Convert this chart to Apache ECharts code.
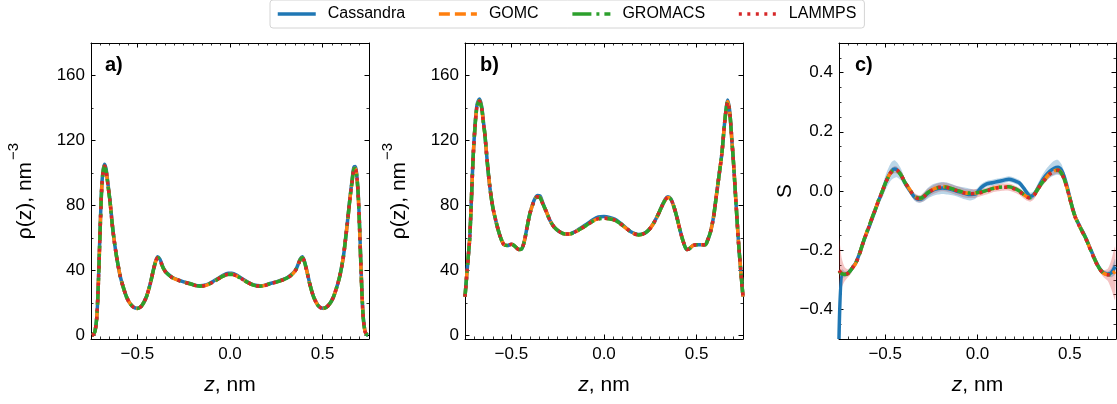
<!DOCTYPE html>
<html><head><meta charset="utf-8">
<script src="https://cdn.jsdelivr.net/npm/echarts@6.0.0/dist/echarts.min.js"></script>
<style>html,body{margin:0;padding:0;background:#fff}#c{width:1117px;height:404px}</style>
</head><body><div id="c"></div>
<script>
// ---------- categories / ticks ----------
const seriesNames = ['Cassandra', 'GOMC', 'GROMACS', 'LAMMPS'];
const seriesColors = ['#1f77b4', '#ff7f0e', '#2ca02c', '#d62728'];
const panelLabels = ['a)', 'b)', 'c)'];
const xMajorTicks = [-0.5, 0, 0.5];
const xMinorTicks = [-0.7,-0.65,-0.6,-0.55,-0.45,-0.4,-0.35,-0.3,-0.25,-0.2,-0.15,-0.1,-0.05,0.05,0.1,0.15,0.2,0.25,0.3,0.35,0.4,0.45,0.55,0.6,0.65,0.7];
const rhoMajorTicks = [0, 40, 80, 120, 160];
const rhoMinorTicks = [20, 60, 100, 140];
const sMajorTicks = [-0.4, -0.2, 0, 0.2, 0.4];
const sMinorTicks = [-0.45,-0.35,-0.3,-0.25,-0.15,-0.1,-0.05,0.05,0.1,0.15,0.25,0.3,0.35,0.45];

// ---------- panel a ----------
const aX = [-0.745,-0.737,-0.728,-0.719,-0.712,-0.705,-0.698,-0.691,-0.683,-0.676,-0.668,-0.658,-0.647,-0.635,-0.623,-0.611,-0.593,-0.575,-0.557,-0.539,-0.52,-0.50,-0.48,-0.465,-0.449,-0.43,-0.413,-0.40,-0.39,-0.378,-0.36,-0.342,-0.315,-0.288,-0.25,-0.216,-0.19,-0.162,-0.13,-0.10,-0.07,-0.04,-0.01,
  0.01,0.04,0.07,0.10,0.13,0.162,0.19,0.216,0.25,0.288,0.315,0.342,0.36,0.378,0.39,0.40,0.413,0.43,0.449,0.465,0.48,0.50,0.52,0.539,0.557,0.575,0.593,0.611,0.623,0.635,0.647,0.658,0.668,0.676,0.683,0.691,0.698,0.705,0.712,0.719,0.728,0.737,0.745];
const aCassandra = [0.3,0.8,3,11,27,51,75,94,103,105.5,102,93,82.5,68.5,57,48,37,29.5,23.5,19.8,17.5,16.9,18,20.5,24.6,32.2,40.8,46.4,48.6,47,41.8,38.7,36.2,34.6,33.1,32.1,31.1,30.7,31.2,32.8,34.9,37,38.4,
  38.4,37,34.8,32.7,31.2,30.7,31.1,32.1,33.1,34.6,36.2,38.7,41.8,47,48.6,46.4,40.8,32.2,24.6,20.5,18,16.9,17.5,19.8,23.5,29.5,37,48,59,71.5,84.5,95,103.5,104,100,89,71,48,26.5,11,3,0.8,0.3];
const aGOMC = [0.3,0.8,3,11,27,50,74,93,102,104.5,101,92,82,68,57,48,37,29.5,23.5,19.8,17.5,16.8,18,20.5,24.5,32,40.5,46,48,46.5,41.5,38.5,36,34.5,33,32,31,30.5,31,32.5,34.5,36.5,37.8,
  37.8,36.5,34.5,32.5,31,30.5,31,32,33,34.5,36,38.5,41.5,46.5,48,46,40.5,32,24.5,20.5,18,16.8,17.5,19.8,23.5,29.5,37,48,59,71,84,94,102.5,103,99,88,70,47,26,11,3,0.8,0.3];
const aGROMACS = [0.3,0.8,3,11,27,50,74,93,102,104.3,101,92,82,68,57,48,37,29.5,23.5,19.8,17.5,16.8,18,20.5,24.5,32,40.5,46,48,46.5,41.5,38.5,36,34.5,33,32,31,30.5,31,32.5,34.5,36.5,37.7,
  37.7,36.5,34.5,32.5,31,30.5,31,32,33,34.5,36,38.5,41.5,46.5,48,46,40.5,32,24.5,20.5,18,16.8,17.5,19.8,23.5,29.5,37,48,59,71,84,94,102.3,102.8,99,88,70,47,26,11,3,0.8,0.3];
const aLAMMPS = [0.3,0.8,3,11,27,50,74,93,102,104.4,101,92,82,68,57,48,37,29.5,23.5,19.8,17.5,16.8,18,20.5,24.5,32,40.5,46,48,46.5,41.5,38.5,36,34.5,33,32,31,30.5,31,32.5,34.5,36.5,37.8,
  37.8,36.5,34.5,32.5,31,30.5,31,32,33,34.5,36,38.5,41.5,46.5,48,46,40.5,32,24.5,20.5,18,16.8,17.5,19.8,23.5,29.5,37,48,59,71,84,94,102.4,102.9,99,88,70,47,26,11,3,0.8,0.3];

// ---------- panel b ----------
const bX = [-0.75,-0.74,-0.73,-0.724,-0.715,-0.706,-0.695,-0.685,-0.672,-0.66,-0.65,-0.643,-0.63,-0.616,-0.60,-0.58,-0.56,-0.54,-0.52,-0.50,-0.48,-0.46,-0.445,-0.43,-0.418,-0.40,-0.38,-0.36,-0.345,-0.33,-0.31,-0.292,-0.27,-0.24,-0.21,-0.19,-0.16,-0.13,-0.094,-0.06,-0.03,0,0.03,0.06,0.087,0.12,0.15,0.186,0.22,0.245,0.267,0.29,0.31,0.33,0.345,0.36,0.375,0.393,0.41,0.43,0.447,0.46,0.48,0.50,0.52,0.546,0.56,0.575,0.591,0.605,0.62,0.636,0.65,0.66,0.667,0.678,0.69,0.699,0.712,0.726,0.738,0.75];
const bCassandra = [24,38,52,61,85,110,130.5,142,145.5,141,131,124.5,107,91.5,79,69,61,56,55.5,56.3,55,53,53.3,58,65,75,82.5,86.3,86,81.5,76,71,67,64,62.6,62.6,63.8,66,68.6,71.3,73,73.3,72.8,71.6,69.4,66.2,63.6,62.2,63.1,65.6,69.1,74.1,79.2,83.8,85.4,84.3,80.2,73,65,57,53,53.5,55.5,56,56,56,59,64,73,85,98,112,130,140.5,145,138.5,120,106,82,57,40,24];
const bGOMC = [24,38,52,61,85,110,130,141,144.5,140,130,124,107,91.5,79,69,61,56,55.5,56.3,55,53,53.3,58,65,75,82,85.5,85,81,76,71,67,64,62.5,62.5,63.5,65.5,68,70.5,72,72.3,72,71,69,66,63.5,62,63,65.5,69,74,79,83.5,85,84,80,73,65,57,53,53.5,55.5,56,56,56,59,64,73,85,98,112,130,140,144,138,120,106,82,57,40,24];
const bGROMACS = [24,38,52,61,85,110,130,141,144.3,140,130,124,107,91.5,79,69,61,56,55.5,56.3,55,53,53.3,58,65,75,82,85.3,84.8,81,76,71,67,64,62.5,62.5,63.5,65.5,68,70.4,71.8,72.1,71.8,71,69,66,63.5,62,63,65.5,69,74,79,83.4,84.9,84,80,73,65,57,53,53.5,55.5,56,56,56,59,64,73,85,98,112,130,140,143.8,138,120,106,82,57,40,24];
const bLAMMPS = [24,38,52,61,85,110,130,141,144.2,140,130,124,107,91.5,79,69,61,56,55.5,56.3,55,53,53.3,58,65,75,82,85.4,84.9,81,76,71,67,64,62.5,62.5,63.5,65.5,68,70.5,72,72.2,72,71,69,66,63.5,62,63,65.5,69,74,79,83.5,85,84,80,73,65,57,53,53.5,55.5,56,56,56,59,64,73,85,98,112,130,140,143.9,138,120,106,82,57,40,24];

// ---------- panel c ----------
const cX = [-0.75,-0.735,-0.72,-0.705,-0.69,-0.675,-0.66,-0.64,-0.62,-0.605,-0.585,-0.565,-0.551,-0.535,-0.515,-0.497,-0.48,-0.465,-0.45,-0.435,-0.415,-0.395,-0.37,-0.345,-0.325,-0.308,-0.29,-0.27,-0.245,-0.215,-0.19,-0.16,-0.13,-0.10,-0.07,-0.04,-0.01,0.02,0.05,0.08,0.11,0.14,0.17,0.20,0.225,0.25,0.27,0.286,0.305,0.325,0.345,0.367,0.39,0.415,0.436,0.455,0.47,0.484,0.50,0.515,0.53,0.555,0.584,0.61,0.638,0.66,0.683,0.705,0.725,0.745];
const cCassandra = [-0.5,-0.279,-0.281,-0.279,-0.27,-0.257,-0.243,-0.213,-0.176,-0.15,-0.118,-0.084,-0.06,-0.032,-0.002,0.03,0.053,0.068,0.074,0.071,0.056,0.03,0.005,-0.018,-0.027,-0.028,-0.02,-0.008,0.002,0.008,0.01,0.008,0.003,-0.003,-0.008,-0.012,-0.01,0.012,0.024,0.028,0.032,0.036,0.04,0.035,0.028,0.01,-0.008,-0.018,-0.012,0.008,0.03,0.05,0.066,0.077,0.08,0.07,0.048,0.018,-0.022,-0.058,-0.088,-0.12,-0.155,-0.193,-0.234,-0.26,-0.276,-0.28,-0.276,-0.255];
const cGOMC = [-0.27,-0.278,-0.281,-0.28,-0.272,-0.258,-0.245,-0.215,-0.175,-0.148,-0.115,-0.08,-0.058,-0.03,0.0,0.03,0.052,0.066,0.072,0.07,0.055,0.032,0.008,-0.015,-0.024,-0.025,-0.018,-0.006,0.004,0.012,0.015,0.012,0.006,0.0,-0.006,-0.008,-0.007,-0.004,0.001,0.008,0.012,0.014,0.014,0.008,0.0,-0.012,-0.02,-0.023,-0.015,0.005,0.025,0.042,0.058,0.068,0.071,0.06,0.04,0.012,-0.025,-0.06,-0.089,-0.122,-0.157,-0.195,-0.236,-0.262,-0.278,-0.282,-0.28,-0.272];
const cGROMACS = [-0.272,-0.279,-0.282,-0.28,-0.271,-0.257,-0.244,-0.214,-0.175,-0.148,-0.115,-0.081,-0.058,-0.03,0.0,0.029,0.051,0.065,0.071,0.069,0.054,0.031,0.007,-0.015,-0.023,-0.024,-0.017,-0.006,0.004,0.011,0.014,0.012,0.006,0.0,-0.005,-0.007,-0.006,-0.003,0.002,0.008,0.012,0.014,0.014,0.009,0.001,-0.011,-0.019,-0.022,-0.014,0.005,0.024,0.041,0.057,0.067,0.07,0.059,0.039,0.012,-0.025,-0.06,-0.089,-0.122,-0.157,-0.195,-0.236,-0.262,-0.278,-0.283,-0.281,-0.274];
const cLAMMPS = [-0.268,-0.277,-0.281,-0.279,-0.272,-0.258,-0.245,-0.215,-0.176,-0.149,-0.116,-0.081,-0.059,-0.031,-0.001,0.029,0.052,0.066,0.072,0.07,0.055,0.031,0.007,-0.016,-0.025,-0.026,-0.019,-0.007,0.003,0.011,0.014,0.011,0.005,-0.001,-0.007,-0.009,-0.008,-0.005,0.0,0.007,0.011,0.013,0.013,0.007,-0.001,-0.013,-0.021,-0.024,-0.016,0.004,0.024,0.041,0.057,0.067,0.07,0.059,0.039,0.011,-0.026,-0.061,-0.09,-0.123,-0.158,-0.196,-0.237,-0.263,-0.279,-0.283,-0.282,-0.278];
const cCassandraErr = [0.0,0.015,0.01,0.008,0.008,0.008,0.008,0.008,0.008,0.008,0.01,0.01,0.012,0.015,0.02,0.025,0.028,0.03,0.03,0.025,0.02,0.015,0.012,0.012,0.012,0.012,0.015,0.018,0.02,0.02,0.02,0.02,0.018,0.018,0.02,0.02,0.015,0.012,0.01,0.01,0.01,0.01,0.01,0.01,0.01,0.01,0.012,0.012,0.012,0.015,0.018,0.02,0.022,0.025,0.025,0.02,0.015,0.012,0.01,0.008,0.008,0.008,0.008,0.008,0.008,0.008,0.008,0.008,0.015,0.025];
const cLAMMPSErr = [0.11,0.05,0.025,0.015,0.012,0.01,0.01,0.01,0.01,0.01,0.01,0.01,0.01,0.01,0.012,0.012,0.012,0.012,0.012,0.012,0.012,0.012,0.012,0.012,0.012,0.012,0.015,0.015,0.015,0.015,0.015,0.015,0.015,0.015,0.015,0.015,0.015,0.012,0.012,0.012,0.012,0.012,0.012,0.012,0.012,0.012,0.012,0.012,0.012,0.012,0.012,0.012,0.012,0.012,0.012,0.012,0.012,0.012,0.01,0.01,0.01,0.01,0.01,0.01,0.01,0.01,0.012,0.02,0.05,0.09];

// ---------- build ----------
const FONT = '"Liberation Sans", Arial, Helvetica, sans-serif';
const grids = [
  {left: 91, top: 43, width: 278, height: 296},
  {left: 465, top: 43, width: 278, height: 296},
  {left: 839, top: 43, width: 277, height: 296}
];
const yRanges = [[-2, 180], [-2, 180], [-0.5, 0.5]];
const yMajor = [rhoMajorTicks, rhoMajorTicks, sMajorTicks];
const yMinor = [rhoMinorTicks, rhoMinorTicks, sMinorTicks];
const minus = s => String(s).replace('-', '\u2212');
const xFmt = v => minus((Math.round(v * 10) / 10).toFixed(1));
const yFmts = [v => String(Math.round(v)), v => String(Math.round(v)), v => minus((Math.round(v * 10) / 10).toFixed(1))];

const xAxes = [], yAxes = [];
grids.forEach((g, gi) => {
  const common = {gridIndex: gi, type: 'value', splitLine: {show: false}};
  const majorTick = vals => ({show: true, inside: true, length: 4.5, customValues: vals, lineStyle: {color: '#000', width: 1}});
  const minorTick = vals => ({show: true, inside: true, length: 2.5, customValues: vals, lineStyle: {color: '#000', width: 0.8}});
  xAxes.push(Object.assign({}, common, {
    min: -0.75, max: 0.75, position: 'bottom',
    axisLine: {show: true, onZero: false, lineStyle: {color: '#000', width: 1}},
    axisTick: majorTick(xMajorTicks),
    axisLabel: {show: true, customValues: xMajorTicks, formatter: xFmt, fontSize: 17, color: '#000', fontFamily: FONT, margin: 7},
    name: '{i|z}{n|, nm}', nameLocation: 'middle', nameGap: 36,
    nameTextStyle: {color: '#000', rich: {
      i: {fontSize: 21, fontStyle: 'italic', fontFamily: FONT, color: '#000'},
      n: {fontSize: 21, fontFamily: FONT, color: '#000'}}}
  }));
  xAxes.push(Object.assign({}, common, {
    min: -0.75, max: 0.75, position: 'top',
    axisLine: {show: true, onZero: false, lineStyle: {color: '#000', width: 1}},
    axisTick: majorTick(xMajorTicks), axisLabel: {show: false}
  }));
  xAxes.push(Object.assign({}, common, {
    min: -0.75, max: 0.75, position: 'top',
    axisLine: {show: false, onZero: false}, axisTick: minorTick(xMinorTicks), axisLabel: {show: false}
  }));
  xAxes.push(Object.assign({}, common, {
    min: -0.75, max: 0.75, position: 'bottom',
    axisLine: {show: false, onZero: false}, axisTick: minorTick(xMinorTicks), axisLabel: {show: false}
  }));
  const [ymin, ymax] = yRanges[gi];
  const yName = gi < 2 ? '{b|\u03C1(z), nm}{s|\u22123}' : '{b|S}';
  yAxes.push(Object.assign({}, common, {
    min: ymin, max: ymax, position: 'left',
    axisLine: {show: true, onZero: false, lineStyle: {color: '#000', width: 1}},
    axisTick: majorTick(yMajor[gi]),
    axisLabel: {show: true, customValues: yMajor[gi], formatter: yFmts[gi], fontSize: 17, color: '#000', fontFamily: FONT, margin: 6},
    name: yName, nameLocation: 'middle', nameRotate: 90, nameGap: gi < 2 ? 55 : 34,
    nameTextStyle: {color: '#000', rich: {
      b: {fontSize: 21, fontFamily: FONT, color: '#000', lineHeight: 30, verticalAlign: 'bottom'},
      s: {fontSize: 15, fontFamily: FONT, color: '#000', lineHeight: 30, verticalAlign: 'top', padding: [0, 0, 10, 2]}}}
  }));
  yAxes.push(Object.assign({}, common, {
    min: ymin, max: ymax, position: 'right',
    axisLine: {show: true, onZero: false, lineStyle: {color: '#000', width: 1}},
    axisTick: majorTick(yMajor[gi]), axisLabel: {show: false}
  }));
  yAxes.push(Object.assign({}, common, {
    min: ymin, max: ymax, position: 'right',
    axisLine: {show: false, onZero: false}, axisTick: minorTick(yMinor[gi]), axisLabel: {show: false}
  }));
  yAxes.push(Object.assign({}, common, {
    min: ymin, max: ymax, position: 'left',
    axisLine: {show: false, onZero: false}, axisTick: minorTick(yMinor[gi]), axisLabel: {show: false}
  }));
});

const dashTypes = ['solid', [11, 5], [19, 5, 3, 5], [3, 5.5]];
function lineSeries(gi, si, xs, ys) {
  return {
    name: seriesNames[si], type: 'line', xAxisIndex: 4 * gi, yAxisIndex: 4 * gi,
    data: xs.map((x, i) => [x, ys[i]]), symbol: 'none', smooth: 0.3,
    lineStyle: {color: seriesColors[si], width: 3.5, type: dashTypes[si]},
    itemStyle: {color: seriesColors[si]}, z: 3 + si
  };
}
// error band: polygon through upper values and back along lower values, positioned by api.coord
function bandSeries(gi, xs, ys, err, color) {
  return {
    type: 'custom', xAxisIndex: 4 * gi, yAxisIndex: 4 * gi, clip: true, silent: true, z: 1,
    data: [[xs[0], ys[0]]],
    renderItem: (params, api) => {
      const up = xs.map((x, i) => api.coord([x, ys[i] + err[i]]));
      const lo = xs.map((x, i) => api.coord([x, ys[i] - err[i]])).reverse();
      return {type: 'polygon', shape: {points: up.concat(lo), smooth: 0.25}, style: {fill: color}};
    }
  };
}

const panelData = [
  [aX, [aCassandra, aGOMC, aGROMACS, aLAMMPS]],
  [bX, [bCassandra, bGOMC, bGROMACS, bLAMMPS]],
  [cX, [cCassandra, cGOMC, cGROMACS, cLAMMPS]]
];
const series = [
  bandSeries(2, cX, cLAMMPS, cLAMMPSErr, 'rgba(214,39,40,0.28)'),
  bandSeries(2, cX, cCassandra, cCassandraErr, 'rgba(31,119,180,0.3)')
];
panelData.forEach(([xs, sets], gi) => sets.forEach((ys, si) => series.push(lineSeries(gi, si, xs, ys))));

const labelLeft = [105, 480, 855];
const option = {
  animation: false,
  backgroundColor: '#fff',
  textStyle: {fontFamily: FONT},
  grid: grids,
  xAxis: xAxes,
  yAxis: yAxes,
  legend: {
    data: seriesNames, left: 270, top: 0, itemWidth: 38, itemHeight: 12, itemGap: 32,
    padding: [6, 8, 6, 6], borderColor: '#d4d4d4', borderWidth: 1, borderRadius: 3,
    itemStyle: {opacity: 0},
    lineStyle: {width: 3.5},
    textStyle: {fontSize: 16, color: '#000', fontFamily: FONT, padding: [0, 0, 0, 7]}
  },
  graphic: panelLabels.map((t, i) => ({
    type: 'text', left: labelLeft[i], top: 55,
    style: {text: t, font: 'bold 20px "Liberation Sans", Arial, sans-serif', fill: '#000'}
  })),
  series: series
};
const chart = echarts.init(document.getElementById('c'), null, {renderer: 'canvas'});
chart.setOption(option);
</script></body></html>
